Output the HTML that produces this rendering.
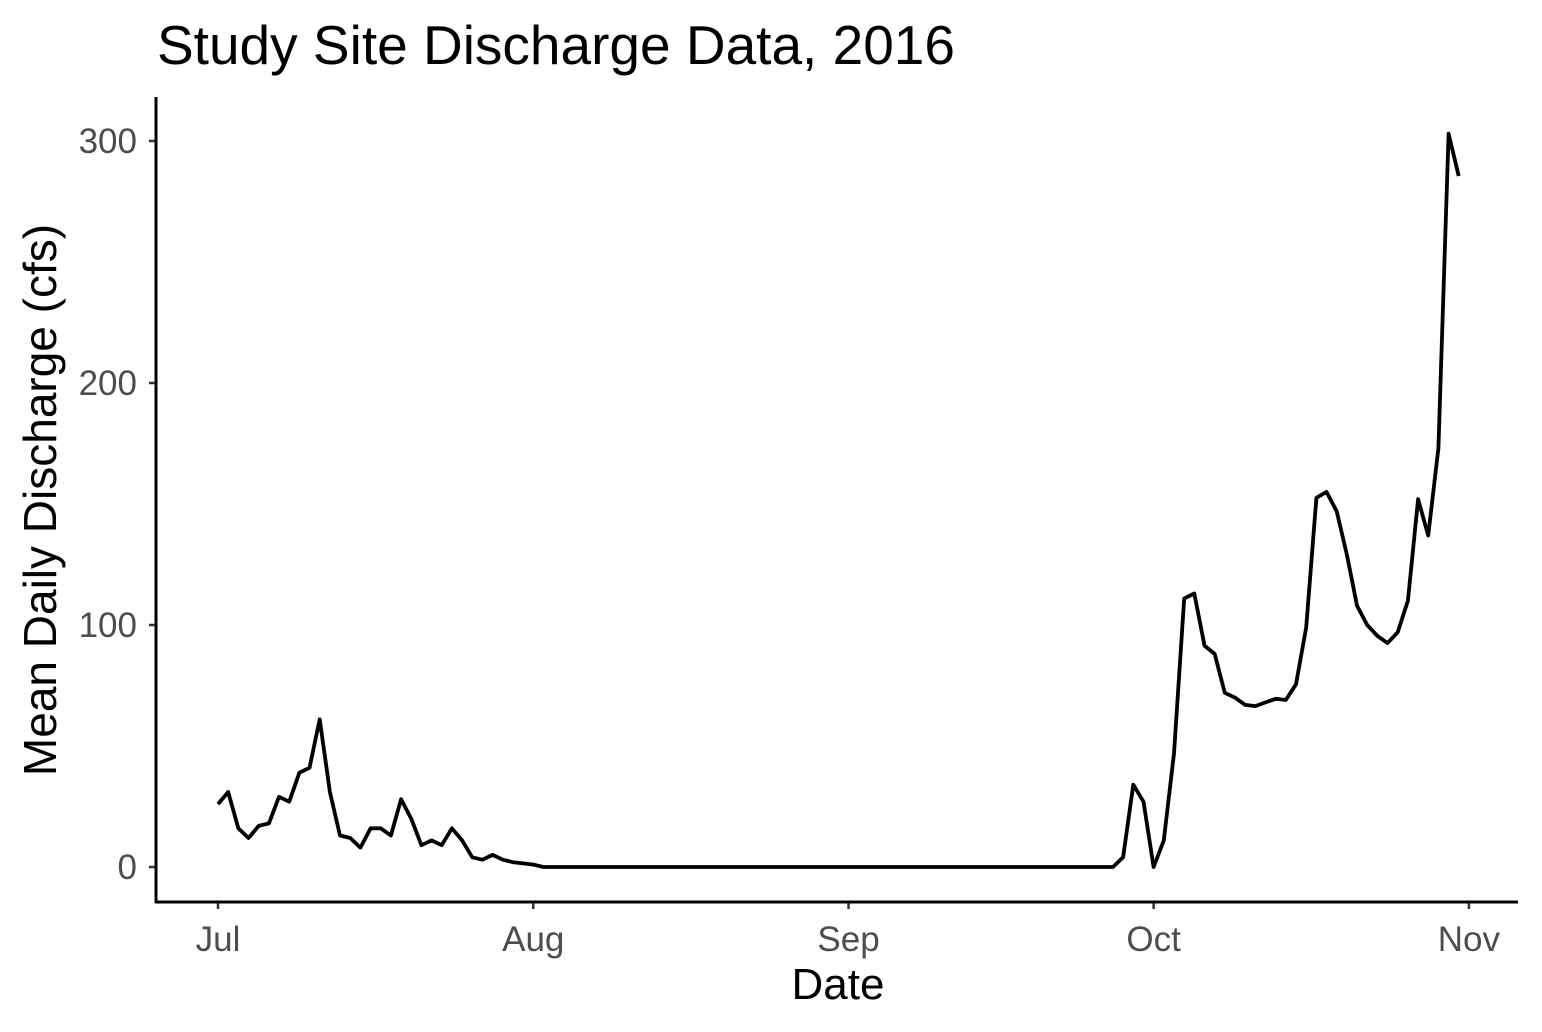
<!DOCTYPE html>
<html><head><meta charset="utf-8"><style>
body{margin:0;background:#fff;}
svg{display:block;font-family:"Liberation Sans",Arial,sans-serif;}
</style></head><body>
<svg id="chart" width="1542" height="1032">
<rect width="1542" height="1032" fill="#fff"/>
<text x="157" y="64" font-size="55" fill="#000">Study Site Discharge Data, 2016</text>
<g id="yaxis"></g>
<g id="xaxis"></g>
<text x="838" y="999" font-size="44" text-anchor="middle" fill="#000">Date</text>
<text transform="translate(56,500) rotate(-90)" font-size="46" text-anchor="middle" fill="#000">Mean Daily Discharge (cfs)</text>
<line x1="156" y1="97" x2="156" y2="903" stroke="#000" stroke-width="3"/>
<line x1="155" y1="902" x2="1518" y2="902" stroke="#000" stroke-width="3"/>
<path id="line" fill="none" stroke="#000" stroke-width="3.8" stroke-linejoin="round"/>
</svg>
<script>
const julyValues = [26,31,16,12,17,18,29,27,39,41,61,31,13,12,8,16,16,13,28,20,9,11,9,16,11,4,3,5,3,2,1.5,1,0];
const octValues = [0,4,34,27,0,11,47,111,113,91.5,88,72,70,67,66.5,68,69.5,69,75.5,99,152.5,155,147,129,108,100,95.5,92.5,97,110,152,137,173,303,285.5];
const zeroDays = 55;
const yTicks = [0,100,200,300];
const xTickLabels = ["Jul","Aug","Sep","Oct","Nov"];
const xTickDays = [0,31,62,92,123];

const values = julyValues.concat(new Array(zeroDays).fill(0), octValues);
const xScale = d => 218 + d * 10.17;
const yScale = v => 867 - v * 2.42;
const NS = "http://www.w3.org/2000/svg";

const ya = document.getElementById('yaxis');
yTicks.forEach(t => {
  const l = document.createElementNS(NS,'line');
  l.setAttribute('x1',149); l.setAttribute('x2',156);
  l.setAttribute('y1',yScale(t)); l.setAttribute('y2',yScale(t));
  l.setAttribute('stroke','#333'); l.setAttribute('stroke-width','2.5');
  
  
  ya.appendChild(l);
  const tx = document.createElementNS(NS,'text');
  tx.setAttribute('x',137); tx.setAttribute('y',yScale(t)+12);
  tx.setAttribute('text-anchor','end'); tx.setAttribute('font-size','35'); tx.setAttribute('fill','#4d4d4d');
  tx.textContent = t;
  
  
  ya.appendChild(tx);
});
const xa = document.getElementById('xaxis');
xTickLabels.forEach((lab,i) => {
  const x = xScale(xTickDays[i]);
  const l = document.createElementNS(NS,'line');
  l.setAttribute('x1',x); l.setAttribute('x2',x);
  l.setAttribute('y1',902); l.setAttribute('y2',909);
  l.setAttribute('stroke','#333'); l.setAttribute('stroke-width','2.5');
  
  
  xa.appendChild(l);
  const tx = document.createElementNS(NS,'text');
  tx.setAttribute('x',x); tx.setAttribute('y',951);
  tx.setAttribute('text-anchor','middle'); tx.setAttribute('font-size','35'); tx.setAttribute('fill','#4d4d4d');
  tx.textContent = lab;
  
  
  xa.appendChild(tx);
});
document.getElementById('line').setAttribute('d',
  values.map((v,i) => (i?'L':'M') + xScale(i).toFixed(1) + ',' + yScale(v).toFixed(1)).join(' '));
</script>
</body></html>
